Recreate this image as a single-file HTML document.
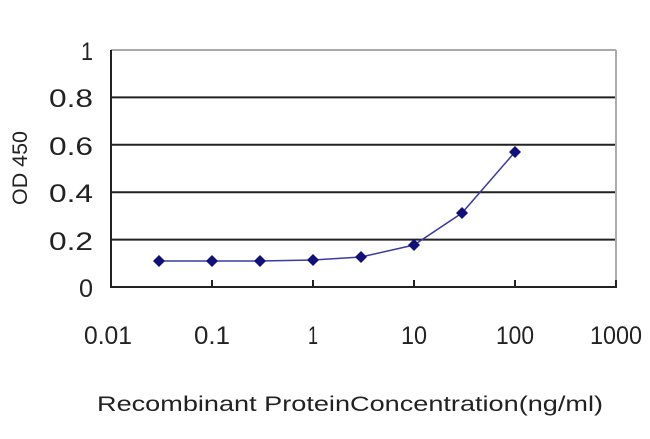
<!DOCTYPE html><html><head><style>body{margin:0;background:#fff}</style></head><body>
<svg width="650" height="434" xmlns="http://www.w3.org/2000/svg" font-family="Liberation Sans, sans-serif">
<rect width="650" height="434" fill="#fff"/>
<g stroke="#222" stroke-width="2">
<line x1="111" y1="50" x2="616" y2="50" stroke="#aaa"/>
<line x1="111" y1="97.4" x2="616" y2="97.4"/>
<line x1="111" y1="144.8" x2="616" y2="144.8"/>
<line x1="111" y1="192.2" x2="616" y2="192.2"/>
<line x1="111" y1="239.6" x2="616" y2="239.6"/>
<line x1="616" y1="50" x2="616" y2="287" stroke="#aaa"/>
<line x1="111" y1="50" x2="111" y2="287"/>
<line x1="110" y1="287" x2="617" y2="287"/>
<line x1="212" y1="280" x2="212" y2="287"/><line x1="313" y1="280" x2="313" y2="287"/>
<line x1="414" y1="280" x2="414" y2="287"/><line x1="515" y1="280" x2="515" y2="287"/>
<line x1="616" y1="280" x2="616" y2="287"/>
</g>
<g font-size="25" fill="#222" text-anchor="end" lengthAdjust="spacingAndGlyphs">
<text x="93" y="60" textLength="12" lengthAdjust="spacingAndGlyphs">1</text>
<text x="93" y="107" textLength="44" lengthAdjust="spacingAndGlyphs">0.8</text>
<text x="93" y="155" textLength="44" lengthAdjust="spacingAndGlyphs">0.6</text>
<text x="93" y="202" textLength="44" lengthAdjust="spacingAndGlyphs">0.4</text>
<text x="93" y="250" textLength="44" lengthAdjust="spacingAndGlyphs">0.2</text>
<text x="93" y="297" textLength="14" lengthAdjust="spacingAndGlyphs">0</text>
</g>
<g font-size="25" fill="#222" text-anchor="middle">
<text x="108" y="344" textLength="48" lengthAdjust="spacingAndGlyphs">0.01</text>
<text x="212" y="344" textLength="36" lengthAdjust="spacingAndGlyphs">0.1</text>
<text x="313" y="344" textLength="10" lengthAdjust="spacingAndGlyphs">1</text>
<text x="414" y="344" textLength="26" lengthAdjust="spacingAndGlyphs">10</text>
<text x="515" y="344" textLength="38" lengthAdjust="spacingAndGlyphs">100</text>
<text x="616" y="344" textLength="52" lengthAdjust="spacingAndGlyphs">1000</text>
</g>
<text transform="translate(27,168) rotate(-90)" font-size="21" fill="#222" text-anchor="middle" textLength="74" lengthAdjust="spacingAndGlyphs">OD 450</text>
<text x="97" y="411" font-size="21" fill="#222" textLength="506" lengthAdjust="spacingAndGlyphs">Recombinant ProteinConcentration(ng/ml)</text>
<polyline fill="none" stroke="#3a3aa0" stroke-width="1.5" points="159,261 212,261 260,261 313,260 361,257 414,245 462,213 515,152"/>
<g fill="#10107a">
<path d="M159,255l6,6l-6,6l-6,-6z"/><path d="M212,255l6,6l-6,6l-6,-6z"/><path d="M260,255l6,6l-6,6l-6,-6z"/>
<path d="M313,254l6,6l-6,6l-6,-6z"/><path d="M361,251l6,6l-6,6l-6,-6z"/><path d="M414,239l6,6l-6,6l-6,-6z"/>
<path d="M462,207l6,6l-6,6l-6,-6z"/><path d="M515,146l6,6l-6,6l-6,-6z"/>
</g>
</svg></body></html>
